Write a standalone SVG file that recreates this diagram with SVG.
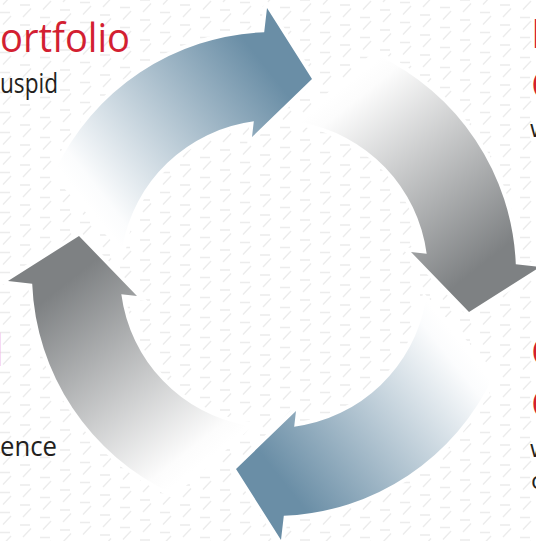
<svg xmlns="http://www.w3.org/2000/svg" xmlns:xlink="http://www.w3.org/1999/xlink" width="536" height="541" viewBox="0 0 536 541">
  <defs>
    <style>
      .bg-mark { stroke: #ececec; stroke-width: 1.4; fill: none; stroke-linecap: butt; }
      .arrow { stroke: #ffffff; stroke-width: 8; stroke-linejoin: miter; paint-order: stroke fill; }
      .title { font-family: "Open Sans", "Noto Sans", sans-serif; font-size: 40px; fill: #d31f32; }
      .title-faint { font-family: "Open Sans", "Noto Sans", sans-serif; font-size: 44px; fill: #f2a3ad; }
      .body { font-family: "Open Sans", "Noto Sans", sans-serif; font-size: 28px; fill: #231f20; }
      .body-small { font-family: "Open Sans", "Noto Sans", sans-serif; font-size: 24px; fill: #231f20; }
    </style>
    <pattern id="zpat" patternUnits="userSpaceOnUse" width="160" height="20">
      <g class="bg-mark">
        <path d="M0 12.5h10M3 24.5l8-8.5M0 -7.5h10M3 4.5l8-8.5"/>
        <path d="M20 5h10M23 17l8-8.5M20 -15h10M23 -3l8-8.5"/>
        <path d="M40 17.5h10M43 29.5l8-8.5M40 -2.5h10M43 9.5l8-8.5"/>
        <path d="M60 10h10M63 22l8-8.5M60 -10h10M63 2l8-8.5"/>
        <path d="M80 2.5h10M83 14.5l8-8.5M80 22.5h10M83 -5.5l8-8.5"/>
        <path d="M100 15h10M103 27l8-8.5M100 -5h10M103 7l8-8.5"/>
        <path d="M120 7.5h10M123 19.5l8-8.5M120 -12.5h10M123 -0.5l8-8.5"/>
        <path d="M140 0h10M143 12l8-8.5M140 20h10M143 -8l8-8.5"/>
      </g>
    </pattern>
    <linearGradient id="gradBlue" gradientUnits="userSpaceOnUse" x1="95" y1="215" x2="272" y2="75">
      <stop offset="0" stop-color="#ffffff"/>
      <stop offset="0.08" stop-color="#fbfcfd"/>
      <stop offset="1" stop-color="#6a8ea6"/>
    </linearGradient>
    <linearGradient id="gradGray" gradientUnits="userSpaceOnUse" x1="95" y1="215" x2="272" y2="75">
      <stop offset="0" stop-color="#ffffff"/>
      <stop offset="0.08" stop-color="#fcfcfc"/>
      <stop offset="1" stop-color="#7e8183"/>
    </linearGradient>
    <path id="arrowShape" d="M54.7 171.7 A242 242 0 0 1 264.19 32.2 L267 8 L312 79 L252 137 L253.82 121.33 A154 154 0 0 0 122.3 247.3 Z"/>
  </defs>

  <rect id="background" x="0" y="0" width="536" height="541" fill="#ffffff"/>
  <rect id="background-pattern" x="0" y="0" width="536" height="541" fill="url(#zpat)"/>

  <g id="connectors">
    <g id="arrow-top">
      <use xlink:href="#arrowShape" href="#arrowShape" class="arrow" fill="url(#gradBlue)"/>
    </g>
    <g id="arrow-right">
      <use xlink:href="#arrowShape" href="#arrowShape" class="arrow" fill="url(#gradGray)" transform="rotate(90 274 274)"/>
    </g>
    <g id="arrow-bottom">
      <use xlink:href="#arrowShape" href="#arrowShape" class="arrow" fill="url(#gradBlue)" transform="rotate(180 274 274)"/>
    </g>
    <g id="arrow-left">
      <use xlink:href="#arrowShape" href="#arrowShape" class="arrow" fill="url(#gradGray)" transform="rotate(270 274 274)"/>
    </g>
  </g>

  <g id="node-top-left">
    <text class="title" x="0" y="52" textLength="130" lengthAdjust="spacingAndGlyphs">ortfolio</text>
    <text class="body" x="0" y="93" textLength="58" lengthAdjust="spacingAndGlyphs">uspid</text>
  </g>
  <g id="node-bottom-left">
    <text class="title-faint" x="4" y="366" text-anchor="end">l</text>
    <text class="body" x="0" y="456" textLength="57" lengthAdjust="spacingAndGlyphs">ence</text>
  </g>
  <g id="node-top-right">
    <text class="title" x="531" y="48">P</text>
    <text class="title" x="531" y="99">C</text>
    <text class="body-small" x="530" y="137">w</text>
  </g>
  <g id="node-bottom-right">
    <text class="title" x="531" y="366">C</text>
    <text class="title" x="531" y="418">C</text>
    <text class="body-small" x="530" y="457">w</text>
    <text class="body-small" x="531" y="489">o</text>
  </g>
</svg>
